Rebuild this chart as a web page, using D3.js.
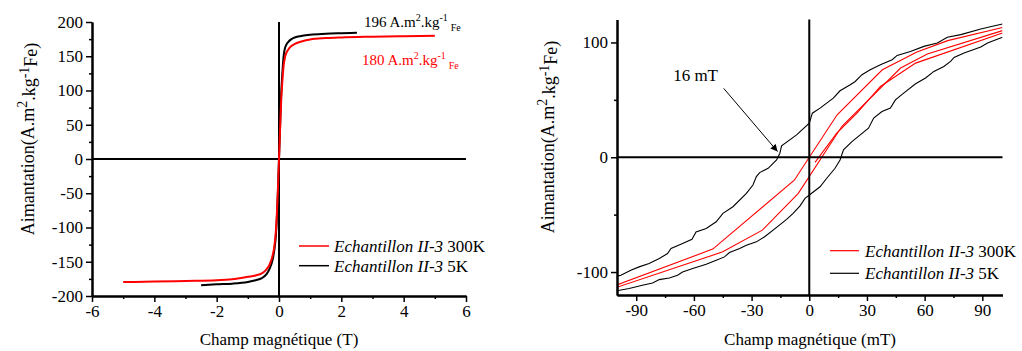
<!DOCTYPE html>
<html>
<head>
<meta charset="utf-8">
<script src="https://cdn.jsdelivr.net/npm/d3@7"></script>
<style>
  body { margin: 0; background: #fff; }
  svg { display: block; font-family: "Liberation Serif", "Times New Roman", serif; }
  .axis path, .axis line { stroke: #000; }
  .axis path { stroke-width: 2; }
  .axis line { stroke-width: 1.5; }
  .axis text { font-size: 17px; fill: #000; font-family: "Liberation Serif", serif; }
</style>
</head>
<body>
<svg id="chart" width="1022" height="351"></svg>
<script>
// ---------- Left panel data (Champ magnétique in T, Aimantation in A.m2.kg-1 Fe) ----------
const leftXTicks = [-6, -4, -2, 0, 2, 4, 6];
const leftXMinor = [-5, -3, -1, 1, 3, 5];
const leftYTicks = [-200, -150, -100, -50, 0, 50, 100, 150, 200];
const leftYMinor = [-175, -125, -75, -25, 25, 75, 125, 175];

const red300K_T = [-5, -4, -3, -2, -1.5, -1, -0.75, -0.55, -0.4, -0.3, -0.2, -0.15, -0.1, -0.07, -0.04, 0, 0.04, 0.07, 0.1, 0.15, 0.2, 0.3, 0.4, 0.55, 0.75, 1, 1.5, 2, 3, 4, 5];
const red300K_M = [-179.6, -179, -178, -177, -175.5, -172, -170, -167, -161, -154, -140, -128, -105, -82, -50, 0, 50, 85, 108, 137, 150, 160, 165, 169, 172, 174.5, 176.5, 177.5, 178.5, 179.2, 179.8];

const black5K_T = [-2.5, -2, -1.5, -1, -0.75, -0.55, -0.4, -0.3, -0.2, -0.15, -0.1, -0.07, -0.04, 0, 0.04, 0.07, 0.1, 0.15, 0.2, 0.3, 0.4, 0.55, 0.75, 1, 1.5, 2, 2.5];
const black5K_M = [-184.4, -183, -182, -179.5, -177, -174, -168, -160, -146, -133, -112, -88, -55, 0, 55, 95, 120, 151, 163, 171, 175, 178, 180, 181.5, 182.8, 183.6, 184.3];

// ---------- Right panel data (Champ magnétique in mT) ----------
const rightXTicks = [-90, -60, -30, 0, 30, 60, 90];
const rightXMinor = [-75, -45, -15, 15, 45, 75];
const rightYTicks = [-100, 0, 100];
const rightYMinor = [-50, 50];

const black5K_down_H = [-100.5, -98, -92.8, -88.5, -83.3, -78, -73.7, -71.9, -65.9, -61, -58.9, -53.6, -48.4, -44.9, -39.7, -32.7, -29.3, -27.5, -25.8, -21.4, -17, -15.3, -14.4, -6.6, 0, 1.6, 5.6, 12.5, 16, 21.3, 23.9, 27.4, 31.7, 37, 43.1, 45.7, 52.6, 59.6, 66.6, 71.8, 78.8, 89.2, 95.3, 100.5];
const black5K_down_M = [-103.7, -102.8, -98.4, -95.5, -92.6, -88.2, -83.9, -79.5, -75.1, -71.4, -65, -62, -56.2, -48.9, -43.1, -31.4, -24.2, -16.9, -13.4, -9.6, -2.4, 3.5, 9.9, 19.5, 29.7, 38.4, 42.8, 51.5, 57.9, 63.1, 66, 71.9, 76.2, 80.6, 85, 88.7, 92.2, 96.6, 99.6, 104.5, 106.8, 111.8, 114.1, 116.1];

const black5K_up_H = [-100.5, -93.7, -86.8, -81.5, -78, -72.8, -68.5, -65.9, -60.6, -53.6, -48.4, -44.1, -41.5, -36.2, -32.7, -27.5, -23.2, -17, -11.8, -8.4, -4.9, -2.2, 0.4, 5.6, 9.1, 13.4, 16, 17.8, 22.2, 26.5, 30.8, 33.5, 37.8, 42.2, 44.8, 49.1, 55.3, 60.5, 64.8, 70, 73.5, 75.3, 80.5, 89.2, 92.7, 100.5];
const black5K_up_M = [-116.5, -114.4, -111.5, -109.5, -106.6, -105.2, -102.8, -99.9, -97, -93.2, -89.7, -86.8, -83, -79.5, -76.6, -73.7, -69.3, -61.1, -54.1, -48.9, -42.5, -35.8, -32.5, -25.7, -18.3, -9.6, -2.4, 6.4, 13.6, 19.5, 25.3, 34.1, 39.8, 42.8, 50, 55.9, 64, 69, 74.8, 79.1, 83.5, 87, 90.8, 96.1, 99.6, 104.5];

const red300K_down_H = [-100.5, -50.2, -7.8, 14.5, 38, 56, 72, 100.5];
const red300K_down_M = [-111.5, -80, -20, 37, 76.2, 91.7, 101.6, 113];
const red300K_up_H = [-100.5, -45, -24.4, -5.7, 17, 47.5, 61.4, 100.5];
const red300K_up_M = [-113.5, -82.4, -63.5, -31.5, 27, 77.7, 90, 110.3];
const red300K_first_H = [3, 14.3, 24.8, 37, 55.3, 100.5];
const red300K_first_M = [-4.4, 21, 38.4, 61.7, 82, 108.3];

const legendLabels = [
  { it: "Echantillon II-3", rest: " 300K", color: "red" },
  { it: "Echantillon II-3", rest: " 5K", color: "black" }
];

const zip = (xs, ys) => xs.map((x, i) => [x, ys[i]]);
const svg = d3.select("#chart");
const fmt = d => String(d);

// ================= LEFT PANEL =================
const xL = d3.scaleLinear().domain([-6, 6]).range([92, 466]);
const yL = d3.scaleLinear().domain([-200, 200]).range([296, 22]);

function drawAxes(g, x, y, xt, xm, yt, ym) {
  const x0 = x.range()[0], y0 = y.range()[0];
  g.append("g").attr("class", "axis").attr("transform", `translate(0,${y0})`)
    .call(d3.axisBottom(x).tickValues(xm).tickSize(3).tickSizeOuter(0).tickFormat(""));
  g.append("g").attr("class", "axis").attr("transform", `translate(${x0},0)`)
    .call(d3.axisLeft(y).tickValues(ym).tickSize(3).tickSizeOuter(0).tickFormat(""));
  g.append("g").attr("class", "axis").attr("transform", `translate(0,${y0})`)
    .call(d3.axisBottom(x).tickValues(xt).tickSize(6).tickSizeOuter(0).tickFormat(fmt));
  g.append("g").attr("class", "axis").attr("transform", `translate(${x0},0)`)
    .call(d3.axisLeft(y).tickValues(yt).tickSize(6).tickSizeOuter(0).tickFormat(fmt));
  // zero lines
  g.append("line").attr("x1", x.range()[0]).attr("x2", x.range()[1])
    .attr("y1", y(0)).attr("y2", y(0)).attr("stroke", "#000").attr("stroke-width", 2);
  g.append("line").attr("x1", x(0)).attr("x2", x(0))
    .attr("y1", y.range()[1]).attr("y2", y.range()[0]).attr("stroke", "#000").attr("stroke-width", 2);
}

function yTitle(g, cx, cy) {
  const t = g.append("text").attr("transform", `translate(${cx},${cy}) rotate(-90)`)
    .attr("text-anchor", "middle").style("font-size", "18px");
  t.append("tspan").text("Aimantation(A.m");
  t.append("tspan").attr("dy", "-0.45em").style("font-size", "14px").text("2");
  t.append("tspan").attr("dy", "0.45em").text(".kg");
  t.append("tspan").attr("dy", "-0.45em").style("font-size", "14px").text("-1");
  t.append("tspan").attr("dy", "0.45em").text("Fe)");
}

function legend(g, x1, x2, tx, rows) {
  rows.forEach((r, i) => {
    const lab = legendLabels[i];
    g.append("line").attr("x1", x1).attr("x2", x2).attr("y1", r.ly).attr("y2", r.ly)
      .attr("stroke", lab.color).attr("stroke-width", r.w);
    const t = g.append("text").attr("x", tx).attr("y", r.ty).style("font-size", "17px");
    t.append("tspan").style("font-style", "italic").text(lab.it);
    t.append("tspan").text(lab.rest);
  });
}

const gL = svg.append("g");
drawAxes(gL, xL, yL, leftXTicks, leftXMinor, leftYTicks, leftYMinor);

const lineL = d3.line().x(d => xL(d[0])).y(d => yL(d[1])).curve(d3.curveMonotoneX);
gL.append("path").datum(zip(black5K_T, black5K_M)).attr("d", lineL)
  .attr("fill", "none").attr("stroke", "#000").attr("stroke-width", 2);
gL.append("path").datum(zip(red300K_T, red300K_M)).attr("d", lineL)
  .attr("fill", "none").attr("stroke", "red").attr("stroke-width", 2);

function satLabel(g, x, y, value, color) {
  const t = g.append("text").attr("x", x).attr("y", y).attr("fill", color).style("font-size", "15px");
  t.append("tspan").text(value + " A.m");
  t.append("tspan").attr("dy", -6).style("font-size", "10px").text("2");
  t.append("tspan").attr("dy", 6).text(".kg");
  t.append("tspan").attr("dy", -6).style("font-size", "10px").text("-1");
  t.append("tspan").attr("dy", 10).attr("dx", 3).style("font-size", "10px").text("Fe");
}
satLabel(gL, 364, 26.5, "196", "#000");
satLabel(gL, 362, 64.5, "180", "red");

legend(gL, 299, 329, 334, [{ ly: 246, ty: 251.5, w: 1.5 }, { ly: 265.7, ty: 271.5, w: 1.5 }]);

gL.append("text").attr("x", 279).attr("y", 345).attr("text-anchor", "middle")
  .style("font-size", "17px").text("Champ magnétique (T)");
yTitle(gL, 33.5, 139);

// ================= RIGHT PANEL =================
const xR = d3.scaleLinear().domain([-100, 100.5]).range([617, 1002.5]);
const yR = d3.scaleLinear().domain([-120, 120]).range([295, 19.5]);

const gR = svg.append("g");
svg.append("defs").append("clipPath").attr("id", "clipR").append("rect")
  .attr("x", 617).attr("y", 19.5).attr("width", 385.5).attr("height", 275.5);

const gCurves = gR.append("g").attr("clip-path", "url(#clipR)");
const lineR = d3.line().x(d => xR(d[0])).y(d => yR(d[1]));
[[black5K_down_H, black5K_down_M], [black5K_up_H, black5K_up_M]].forEach(([h, m]) => {
  gCurves.append("path").datum(zip(h, m)).attr("d", lineR)
    .attr("fill", "none").attr("stroke", "#000").attr("stroke-width", 1.1);
});
[[red300K_down_H, red300K_down_M], [red300K_up_H, red300K_up_M], [red300K_first_H, red300K_first_M]].forEach(([h, m]) => {
  gCurves.append("path").datum(zip(h, m)).attr("d", lineR)
    .attr("fill", "none").attr("stroke", "red").attr("stroke-width", 1.1);
});

drawAxes(gR, xR, yR, rightXTicks, rightXMinor, rightYTicks, rightYMinor);

// annotation 16 mT with arrow
svg.select("defs").append("marker").attr("id", "arrow").attr("viewBox", "0 0 10 10")
  .attr("refX", 10).attr("refY", 5).attr("markerWidth", 9).attr("markerHeight", 7)
  .attr("markerUnits", "userSpaceOnUse").attr("orient", "auto")
  .append("path").attr("d", "M0,0 L10,5 L0,10 Z").attr("fill", "#000");
gR.append("line").attr("x1", xR(-44.5)).attr("y1", yR(60)).attr("x2", xR(-16.5)).attr("y2", yR(5))
  .attr("stroke", "#000").attr("stroke-width", 1).attr("marker-end", "url(#arrow)");
gR.append("text").attr("x", xR(-70.8)).attr("y", yR(66)).style("font-size", "17px").text("16 mT");

legend(gR, 830, 859, 865, [{ ly: 250.7, ty: 256.5, w: 1.2 }, { ly: 273.3, ty: 278.5, w: 1.2 }]);

gR.append("text").attr("x", 810).attr("y", 345).attr("text-anchor", "middle")
  .style("font-size", "17px").text("Champ magnétique (mT)");
yTitle(gR, 553.5, 137);
</script>
</body>
</html>
